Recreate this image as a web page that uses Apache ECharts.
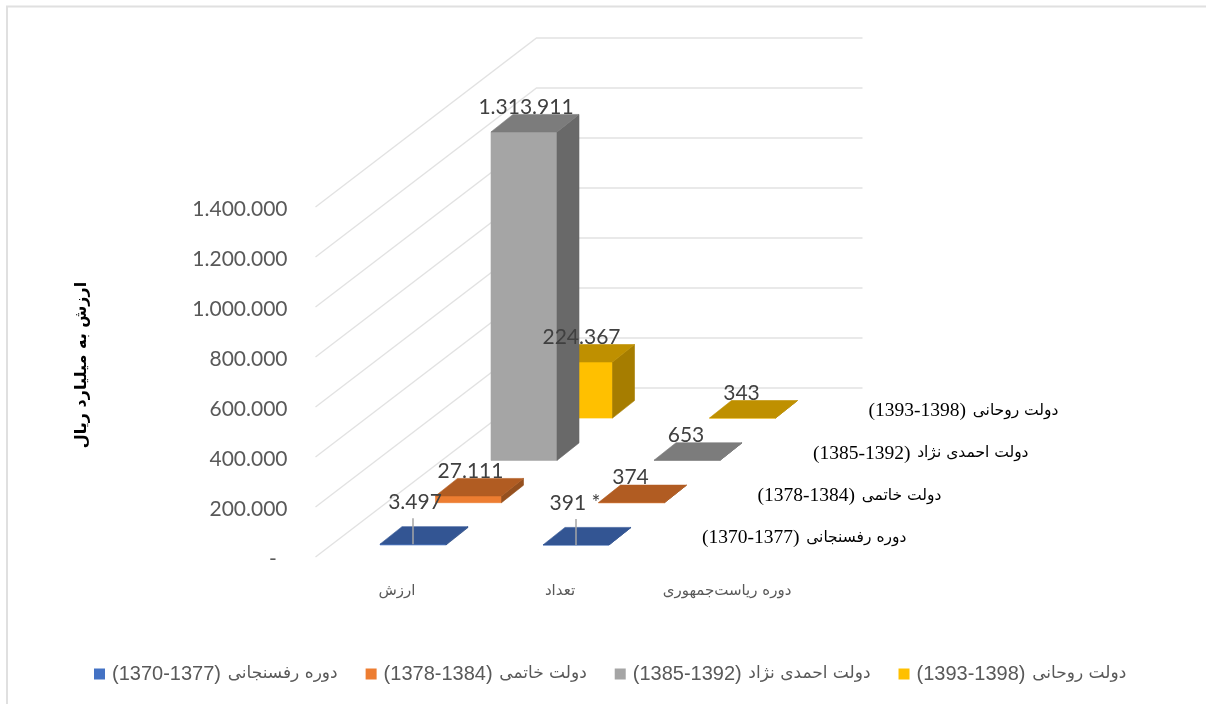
<!DOCTYPE html>
<html>
<head>
<meta charset="utf-8">
<style>
  html, body { margin: 0; padding: 0; background: #fff; }
  #main { width: 1206px; height: 704px; }
</style>
<script src="https://cdn.jsdelivr.net/npm/echarts@6/dist/echarts.min.js"></script>
</head>
<body>
<div id="main" dir="rtl"></div>
<script>
const categories = ['ارزش', 'تعداد', 'دوره ریاست‌جمهوری']
const periods = [
  'دوره رفسنجانی (1370-1377)',
  'دولت خاتمی (1378-1384)',
  'دولت احمدی نژاد (1385-1392)',
  'دولت روحانی (1393-1398)',
]
const rafsanjani = [3497, 391]
const khatami = [27111, 374]
const ahmadinejad = [1313911, 653]
const rouhani = [224367, 343]
const rows = [rafsanjani, khatami, ahmadinejad, rouhani]
const axisTicks = [0, 200000, 400000, 600000, 800000, 1000000, 1200000, 1400000]

const faces = [
  { front: '#4472c4', top: '#335593', side: '#2a4a82' },
  { front: '#ed7d31', top: '#b15c22', side: '#95501f' },
  { front: '#a5a5a5', top: '#7c7c7c', side: '#696969' },
  { front: '#ffc000', top: '#bf9000', side: '#a67d00' },
]

// oblique projection of the excel 3d view
const wallDepth = [221, -169]
const rowStart = [16, -12]
const rowStep = [55.5, -42.3]
const barDepth = [22, -17.5]
const barWidth = 66

const numberFont = '21px Lato'
const fmt = v => String(v).replace(/\B(?=(\d{3})+$)/g, '.')

// years and name are laid out left to right as separate rich tokens
const richPeriod = name => {
  const m = name.match(/^(.*) (\(.*\))$/)
  return '{num|' + m[2] + '}  {name|' + m[1] + '}'
}

const rowOrigin = (api, cat, value, row) => {
  const p = api.coord([cat, value])
  return [p[0] + rowStart[0] + rowStep[0] * row, p[1] + rowStart[1] + rowStep[1] * row]
}

const poly = (points, fill) => ({
  type: 'polygon',
  shape: { points },
  style: { fill, stroke: fill, lineWidth: 0.6 },
})

const renderBar = row => (params, api) => {
  const cat = api.value(0)
  const top = rowOrigin(api, cat, api.value(1), row)
  const base = rowOrigin(api, cat, 0, row)
  const c = faces[row]
  const l = top[0] - barWidth / 2
  const r = top[0] + barWidth / 2
  const dx = barDepth[0]
  const dy = barDepth[1]
  return {
    type: 'group',
    children: [
      poly([[l, top[1]], [r, top[1]], [r, base[1]], [l, base[1]]], c.front),
      poly([[r, top[1]], [r + dx, top[1] + dy], [r + dx, base[1] + dy], [r, base[1]]], c.side),
      poly([[l, top[1]], [r, top[1]], [r + dx, top[1] + dy], [l + dx, top[1] + dy]], c.top),
    ],
  }
}

const renderWall = (params, api) => {
  const p = api.coord([0, api.value(1)])
  const x0 = params.coordSys.x
  const backWidth = api.size([1, 0])[0] * 2
  return {
    type: 'polyline',
    shape: {
      points: [
        [x0, p[1]],
        [x0 + wallDepth[0], p[1] + wallDepth[1]],
        [x0 + wallDepth[0] + backWidth, p[1] + wallDepth[1]],
      ],
    },
    style: { fill: null, stroke: '#e2e2e2', lineWidth: 1.3 },
  }
}

const renderValueLabel = (params, api) => {
  const cat = api.value(0)
  const value = api.value(1)
  const row = api.value(2)
  const top = rowOrigin(api, cat, value, row)
  const text = row === 0 && cat === 1 ? '* ' + fmt(value) : fmt(value)
  const lift = row === 0 ? 42 : 25
  const children = [{
    type: 'text',
    style: {
      x: top[0] + (cat === 0 ? 2 : -1), y: top[1] - lift, text, font: numberFont, fill: '#404040',
      align: 'center', verticalAlign: 'middle',
    },
  }]
  if (row === 0) {
    children.unshift({
      type: 'line',
      shape: { x1: top[0], y1: top[1] - 26, x2: top[0], y2: top[1] },
      style: { stroke: '#a6a6a6', lineWidth: 1.5 },
    })
  }
  return { type: 'group', children }
}

const renderRowName = (params, api) => {
  const row = api.value(2)
  const p = rowOrigin(api, 2, 0, row)
  return {
    type: 'text',
    style: {
      x: p[0] - 37, y: p[1] - 7, text: richPeriod(periods[row]),
      align: 'left', verticalAlign: 'middle',
      rich: {
        num: { font: '19.5px "Liberation Serif"', fill: '#000' },
        name: { font: '15.5px "DejaVu Sans"', fill: '#000' },
      },
    },
  }
}

const chart = echarts.init(document.getElementById('main'), null, { renderer: 'canvas' })
chart.setOption({
  animation: false,
  backgroundColor: '#fff',
  color: faces.map(f => f.front),
  grid: { left: 315.5, top: 207, width: 489, height: 350, containLabel: false },
  legend: {
    left: 89, top: 659,
    data: periods.map(name => ({ name, icon: 'rect' })),
    itemWidth: 11, itemHeight: 11, itemGap: 28,
    formatter: richPeriod,
    textStyle: {
      color: '#595959',
      padding: [0, 0, 0, 2],
      rich: {
        num: { fontSize: 20, fontFamily: '"Liberation Sans"', color: '#595959' },
        name: { fontSize: 17, fontFamily: '"DejaVu Sans"', color: '#595959' },
      },
    },
    selectedMode: false,
  },
  xAxis: {
    type: 'category',
    data: categories.map((value, i) => i === 2 ? { value, textStyle: { padding: [0, 0, 0, 8] } } : value),
    axisLine: { show: false },
    axisTick: { show: false },
    axisLabel: { color: '#595959', fontSize: 15, fontFamily: '"DejaVu Sans"', margin: 27, interval: 0 },
  },
  yAxis: {
    type: 'value',
    min: 0,
    max: 1400000,
    interval: 200000,
    axisLine: { show: false },
    axisTick: { show: false },
    splitLine: { show: false },
    axisLabel: {
      color: '#595959', fontSize: 21, fontFamily: 'Lato', margin: 28,
      verticalAlign: 'top', lineHeight: 4,
      formatter: v => v === 0 ? '\u00a0\u00a0-' : fmt(v),
    },
  },
  graphic: [
    {
      type: 'text',
      rotation: Math.PI / 2,
      x: 82, y: 365,
      style: {
        text: 'ارزش به میلیارد ریال',
        font: 'bold 16px "DejaVu Sans"', fill: '#000',
        align: 'center', verticalAlign: 'middle',
      },
    },
    {
      type: 'polyline',
      shape: { points: [[7, 704], [7, 6.5], [1206, 6.5]] },
      style: { fill: null, stroke: '#e0e0e0', lineWidth: 2 },
    },
  ],
  series: [
    {
      type: 'custom',
      name: 'walls',
      z: 1,
      silent: true,
      encode: { x: 0, y: 1 },
      renderItem: renderWall,
      data: axisTicks.map(t => [0, t]),
    },
    ...rows.map((values, row) => ({
      type: 'custom',
      name: periods[row],
      z: 10 - row,
      itemStyle: { color: faces[row].front },
      encode: { x: 0, y: 1 },
      renderItem: renderBar(row),
      data: values.map((v, i) => [i, v]),
    })),
    {
      type: 'custom',
      name: 'value labels',
      z: 20,
      silent: true,
      encode: { x: 0, y: 1 },
      renderItem: renderValueLabel,
      data: rows.flatMap((values, row) => values.map((v, i) => [i, v, row])),
    },
    {
      type: 'custom',
      name: 'row names',
      z: 20,
      silent: true,
      encode: { x: 0, y: 1 },
      renderItem: renderRowName,
      data: rows.map((values, row) => [2, 0, row]),
    },
  ],
})
</script>
</body>
</html>
